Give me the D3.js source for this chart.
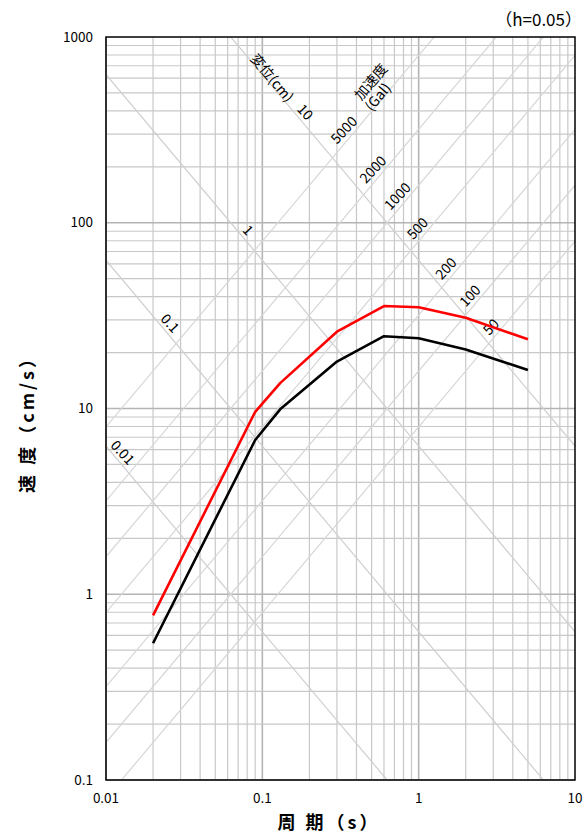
<!DOCTYPE html>
<html><head><meta charset="utf-8">
<script src="https://cdn.jsdelivr.net/npm/d3@7/dist/d3.min.js"></script>
<style>
body{margin:0;background:#fff;}
svg{display:block;}
text{font-family:"Noto Sans CJK JP","Liberation Sans",sans-serif;}
</style></head>
<body>
<svg id="c" width="584" height="833"></svg>
<script>
// ---- data ----
const periods = [0.02, 0.09, 0.13, 0.3, 0.6, 1.0, 2.0, 5.0];
const redVel = [0.77, 9.6, 13.7, 25.9, 35.6, 35.1, 30.8, 23.6];
const blackVel = [0.545, 6.77, 9.9, 17.9, 24.5, 23.9, 20.8, 16.1];
const xTicks = [0.01, 0.1, 1, 10];
const xTickLabels = ["0.01", "0.1", "1", "10"];
const yTicks = [0.1, 1, 10, 100, 1000];
const yTickLabels = ["0.1", "1", "10", "100", "1000"];
const dispValues = [0.01, 0.1, 1, 10];           // cm
const dispLabels = ["0.01", "0.1", "1", "10"];
const dispLabelT = [0.01275, 0.0257, 0.081, 0.1875];
const accValues = [50, 100, 200, 500, 1000, 2000, 5000]; // Gal
const accLabels = ["50", "100", "200", "500", "1000", "2000", "5000"];
const accLabelT = [2.905, 2.133, 1.497, 0.984, 0.733, 0.511, 0.333];

// ---- layout ----
const L = 106, R = 575, T = 37, B = 780;
const svg = d3.select("#c");
const x = d3.scaleLog().domain([0.01, 10]).range([L, R]);
const y = d3.scaleLog().domain([0.1, 1000]).range([B, T]);
const TWO_PI = 2 * Math.PI;

svg.append("defs").append("clipPath").attr("id", "clip")
  .append("rect").attr("x", L).attr("y", T).attr("width", R - L).attr("height", B - T);

const grid = svg.append("g");
const gx = [], gy = [];
for (let e = -2; e <= 0; e++) for (let k = 1; k <= 9; k++) gx.push({v: k * Math.pow(10, e), major: k === 1});
for (let e = -1; e <= 2; e++) for (let k = 1; k <= 9; k++) gy.push({v: k * Math.pow(10, e), major: k === 1});
grid.selectAll(".gx").data(gx).join("line")
  .attr("x1", d => x(d.v)).attr("x2", d => x(d.v)).attr("y1", T).attr("y2", B)
  .attr("stroke", d => d.major ? "#b4b4b4" : "#c8c8c8").attr("stroke-width", d => d.major ? 1.6 : 1.2);
grid.selectAll(".gy").data(gy).join("line")
  .attr("y1", d => y(d.v)).attr("y2", d => y(d.v)).attr("x1", L).attr("x2", R)
  .attr("stroke", d => d.major ? "#b4b4b4" : "#c8c8c8").attr("stroke-width", d => d.major ? 1.6 : 1.2);

// diagonal lines
const diag = svg.append("g").attr("clip-path", "url(#clip)");
const dispV = (D, t) => TWO_PI * D / t;
const accV = (A, t) => A * t / TWO_PI;
diag.selectAll(".dl").data(dispValues).join("line")
  .attr("x1", x(0.001)).attr("y1", D => y(dispV(D, 0.001)))
  .attr("x2", x(100)).attr("y2", D => y(dispV(D, 100)))
  .attr("stroke", "#cfcfcf").attr("stroke-width", 1.2);
diag.selectAll(".al").data(accValues).join("line")
  .attr("x1", x(0.001)).attr("y1", A => y(accV(A, 0.001)))
  .attr("x2", x(100)).attr("y2", A => y(accV(A, 100)))
  .attr("stroke", "#d6d6d6").attr("stroke-width", 1.2);

const angle = Math.atan((y(1) - y(10)) / (x(10) - x(1))) * 180 / Math.PI;
const rotA = 47;

// labels on diagonals
const lab = svg.append("g").attr("font-size", 14).attr("fill", "#000");
dispValues.forEach((D, i) => {
  const t = dispLabelT[i];
  const px = x(t), py = y(dispV(D, t)) - 13;
  lab.append("text").attr("transform", `translate(${px},${py}) rotate(${rotA})`)
    .attr("text-anchor", "middle").attr("dy", "0.35em").text(dispLabels[i]);
});
accValues.forEach((A, i) => {
  const t = accLabelT[i];
  const px = x(t), py = y(accV(A, t)) - 14;
  lab.append("text").attr("transform", `translate(${px},${py}) rotate(${-rotA})`)
    .attr("text-anchor", "middle").attr("dy", "0.35em").text(accLabels[i]);
});
lab.append("text").attr("transform", `translate(272,78) rotate(${rotA + 3})`)
  .attr("text-anchor", "middle").attr("dy", "0.35em").text("変位(cm)");
lab.append("text").attr("transform", `translate(371,82) rotate(${-rotA - 3})`)
  .attr("text-anchor", "middle").attr("dy", "0.35em").text("加速度");
lab.append("text").attr("transform", `translate(378,97) rotate(${-rotA - 3})`)
  .attr("text-anchor", "middle").attr("dy", "0.35em").text("(Gal)");

// curves
const line = d3.line().x((d, i) => x(periods[i])).y(d => y(d));
const curves = svg.append("g").attr("clip-path", "url(#clip)");
curves.append("path").datum(blackVel).attr("d", line)
  .attr("fill", "none").attr("stroke", "#000").attr("stroke-width", 2.6).attr("stroke-linejoin", "round");
curves.append("path").datum(redVel).attr("d", line)
  .attr("fill", "none").attr("stroke", "#ff0000").attr("stroke-width", 2.6).attr("stroke-linejoin", "round");

// frame
svg.append("rect").attr("x", L).attr("y", T).attr("width", R - L).attr("height", B - T)
  .attr("fill", "none").attr("stroke", "#000").attr("stroke-width", 1.5);

// tick labels
const tk = svg.append("g").attr("font-size", 13.5).attr("fill", "#000")
  .style("font-family", "'Liberation Sans',Arial,sans-serif");
tk.selectAll(".xt").data(xTicks).join("text")
  .attr("x", d => x(d)).attr("y", B + 23).attr("text-anchor", "middle")
  .text((d, i) => xTickLabels[i]);
tk.selectAll(".yt").data(yTicks).join("text")
  .attr("x", L - 13).attr("y", d => y(d)).attr("dy", "0.35em").attr("text-anchor", "end")
  .text((d, i) => yTickLabels[i]);

// axis titles
svg.append("text").attr("x", 329).attr("y", 829).attr("text-anchor", "middle")
  .attr("font-size", 18).attr("font-weight", "bold").attr("letter-spacing", 3).text("周 期（s）");
svg.append("text").attr("transform", "translate(34,420) rotate(-90)").attr("text-anchor", "middle")
  .attr("font-size", 18).attr("font-weight", "bold").attr("letter-spacing", 3).text("速 度（cm/s）");
svg.append("text").attr("x", 582).attr("y", 26).attr("text-anchor", "end")
  .attr("font-size", 17).text("（h=0.05）");
</script>
</body></html>
